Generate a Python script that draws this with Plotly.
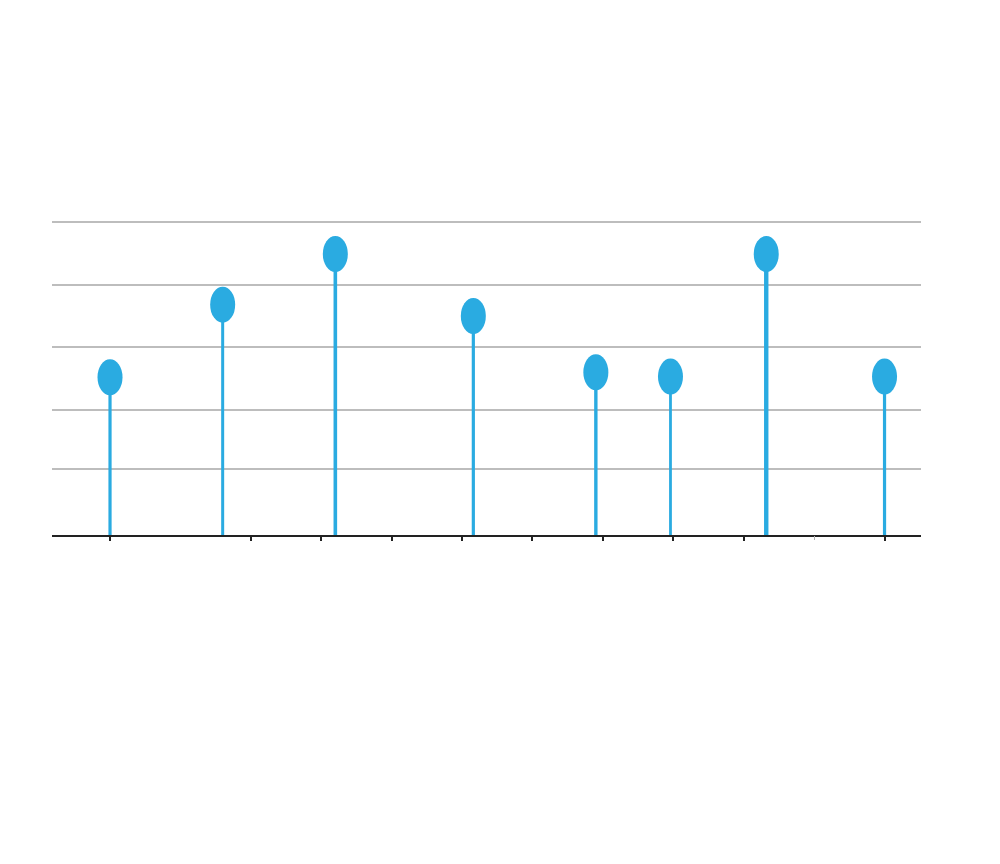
import plotly.graph_objects as go

# Data
x_positions = [0, 1.6, 3.2, 5.16, 6.9, 7.96, 9.32, 11.0]
values = [2.52, 3.68, 4.49, 3.50, 2.60, 2.53, 4.49, 2.53]
x_ticks = [0, 2, 3, 4, 5, 6, 7, 8, 9, 11]
x_faint_ticks = [10]
y_grid = [1.05, 2, 3, 4, 5]

# Styles
stem_widths = [3.2, 3.0, 3.6, 3.2, 3.4, 2.8, 4.4, 3.2]
color = "#2aabe1"

fig = go.Figure()
for xv, yv, w in zip(x_positions, values, stem_widths):
    fig.add_trace(go.Scatter(x=[xv, xv], y=[0, yv], mode="lines",
                             line=dict(color=color, width=w),
                             hoverinfo="skip", showlegend=False))

for xv, yv in zip(x_positions, values):
    fig.add_shape(type="circle", xref="x", yref="y",
                  xsizemode="pixel", ysizemode="pixel",
                  xanchor=xv, yanchor=yv,
                  x0=-12.5, x1=12.5, y0=-18, y1=18,
                  fillcolor=color, line=dict(width=0), layer="above")

# invisible trace for overlay axis
fig.add_trace(go.Scatter(x=[x_positions[0]], y=[0], xaxis="x2", mode="markers",
                         marker=dict(opacity=0), hoverinfo="skip", showlegend=False))

fig.update_layout(
    width=984, height=848,
    margin=dict(l=44, r=71, t=212, b=321),
    paper_bgcolor="white", plot_bgcolor="white",
    showlegend=False,
    xaxis=dict(range=[-0.824, 11.518], tickvals=x_ticks, showticklabels=False,
               ticks="outside", ticklen=4, tickwidth=1.5, tickcolor="#222",
               showline=True, linecolor="#222", linewidth=1.5,
               showgrid=False, zeroline=False),
    xaxis2=dict(overlaying="x", matches="x", side="bottom", tickvals=x_faint_ticks,
                showticklabels=False, ticks="outside", ticklen=4, tickwidth=1,
                tickcolor="#b0b0b0", showline=False, showgrid=False, zeroline=False),
    yaxis=dict(range=[0, 5.032], tickvals=y_grid, showticklabels=False,
               showgrid=True, gridcolor="#bdbdbd", gridwidth=1.5,
               zeroline=False, showline=False, ticks=""),
)

fig.write_html("out.html")
